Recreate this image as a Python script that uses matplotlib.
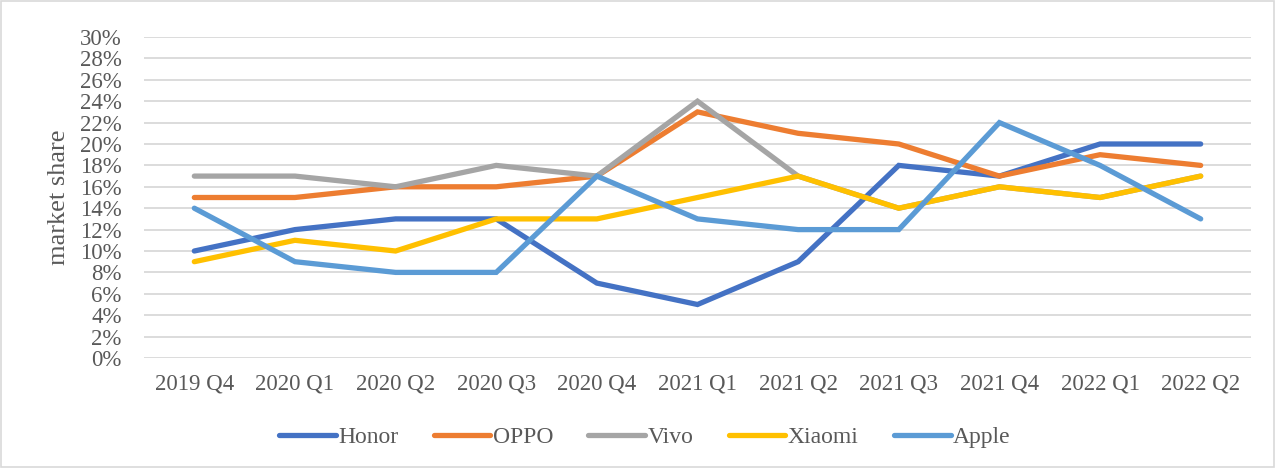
import matplotlib
matplotlib.use("Agg")
import matplotlib.pyplot as plt
from matplotlib.patches import Rectangle
from matplotlib.ticker import FuncFormatter, MultipleLocator

quarters = ["2019 Q4", "2020 Q1", "2020 Q2", "2020 Q3", "2020 Q4", "2021 Q1",
            "2021 Q2", "2021 Q3", "2021 Q4", "2022 Q1", "2022 Q2"]
honor = [10, 12, 13, 13, 7, 5, 9, 18, 17, 20, 20]
oppo = [15, 15, 16, 16, 17, 23, 21, 20, 17, 19, 18]
vivo = [17, 17, 16, 18, 17, 24, 17, 14, 16, 15, 17]
xiaomi = [9, 11, 10, 13, 13, 15, 17, 14, 16, 15, 17]
apple = [14, 9, 8, 8, 17, 13, 12, 12, 22, 18, 13]

series = [
    ("Honor", honor, "#4472C4"),
    ("OPPO", oppo, "#ED7D31"),
    ("Vivo", vivo, "#A5A5A5"),
    ("Xiaomi", xiaomi, "#FFC000"),
    ("Apple", apple, "#5B9BD5"),
]

plt.rcParams["font.family"] = ["Liberation Serif", "DejaVu Serif"]
text_color = "#595959"

fig = plt.figure(figsize=(12.77, 4.68), dpi=100)
ax = fig.add_axes([144 / 1277, 1 - 358 / 468, 1107 / 1277, 321 / 468])

x = list(range(len(quarters)))
for name, vals, col in series:
    ax.plot(x, [v / 100 for v in vals], color=col, lw=3.8, label=name,
            solid_capstyle="round", solid_joinstyle="miter")

ax.set_xlim(-0.5, len(quarters) - 0.5)
ax.set_ylim(0, 0.30)
ax.yaxis.set_major_locator(MultipleLocator(0.02))
ax.yaxis.set_major_formatter(FuncFormatter(lambda v, _: f"{v * 100:.0f}%"))
ax.set_xticks(x)
ax.set_xticklabels(quarters)
ax.grid(axis="y", color="#d9d9d9", lw=1.3)
ax.set_axisbelow(True)
for s in ax.spines.values():
    s.set_visible(False)
ax.tick_params(axis="both", length=0, labelsize=16.5, labelcolor=text_color)
ax.tick_params(axis="x", pad=11)
ax.tick_params(axis="y", pad=16)
ax.set_ylabel("market share", fontsize=19, color=text_color, labelpad=7)

fig.legend(loc="center", bbox_to_anchor=(0.505, 1 - 437 / 468), ncol=5,
           frameon=False, fontsize=17, handlelength=2.4, handletextpad=0.1,
           columnspacing=1.5, labelcolor=text_color)

fig.add_artist(Rectangle((0.001, 0.002), 0.997, 0.995, transform=fig.transFigure,
                         fill=False, edgecolor="#d9d9d9", lw=1.2))

fig.savefig("out.png", dpi=100)
